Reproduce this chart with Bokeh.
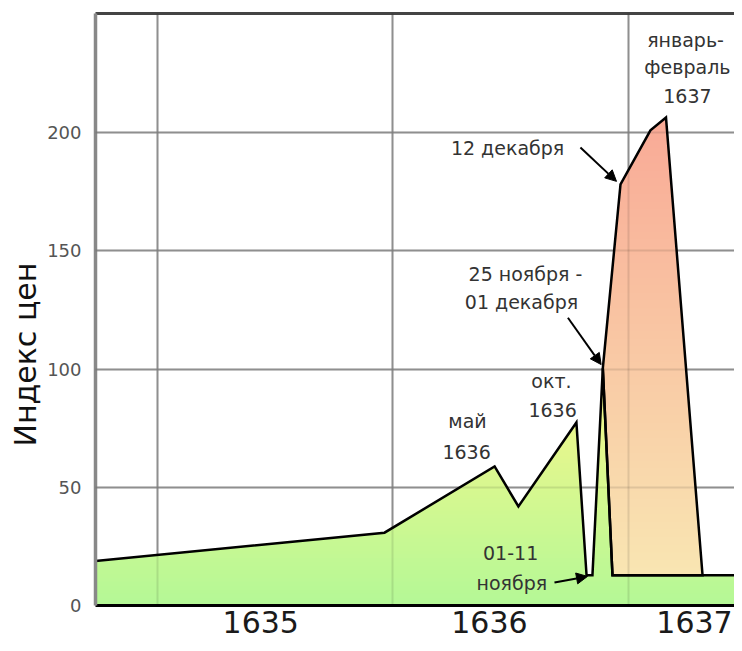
import numpy as np
from bokeh.plotting import figure
from bokeh.models import (Range1d, FixedTicker, LinearAxis, Grid, Arrow, NormalHead,
                          Title, ColumnDataSource)
from bokeh.core.properties import value
from bokeh.embed import file_html
from bokeh.resources import INLINE

# ---------------- data ----------------
dates = [1634.739, 1635.965, 1636.432, 1636.533, 1636.779, 1636.822, 1636.847,
         1636.891, 1636.932, 1636.966, 1637.093, 1637.159, 1637.314, 1637.480]
price_index = [18.8, 30.8, 58.8, 41.9, 77.4, 12.8, 12.8,
               100.3, 12.8, 178.1, 201.0, 206.4, 12.8, 12.8]
# points bounding each shaded phase (indices into the series)
green_phase = [0, 1, 2, 3, 4, 5, 6, 7, 8, 13]
orange_phase = [8, 7, 9, 10, 11, 12]

year_grid = [1635, 1636, 1637]
year_label_pos = [1635.44, 1636.41, 1637.28]
year_labels = ["1635", "1636", "1637"]
index_ticks = [0, 50, 100, 150, 200]

ann_text = ["январь-", "февраль", "1637", "12 декабря", "25 ноября -", "01 декабря",
            "окт.", "1636", "май", "1636", "01-11", "ноября"]
ann_x = [1637.242, 1637.250, 1637.250, 1636.487, 1636.563, 1636.546,
         1636.673, 1636.678, 1636.317, 1636.313, 1636.500, 1636.505]
ann_y = [239.4, 227.6, 215.3, 193.7, 140.4, 128.2,
         94.8, 82.5, 78.0, 65.1, 22.4, 9.7]

arrow_x0 = [1636.796, 1636.743, 1636.686]
arrow_y0 = [193.7, 121.7, 9.7]
arrow_x1 = [1636.949, 1636.884, 1636.826]
arrow_y1 = [179.4, 101.9, 12.3]

X0, X1 = 1634.739, 1637.4496
Y0, Y1 = 0, 250.4

# ---------------- helpers ----------------
def clip_above(poly, lo):
    out = []
    n = len(poly)
    for i in range(n):
        cur, prev = poly[i], poly[i - 1]
        cin, pin = cur[1] >= lo, prev[1] >= lo
        if cin != pin:
            t = (lo - prev[1]) / (cur[1] - prev[1])
            out.append((prev[0] + t * (cur[0] - prev[0]), lo))
        if cin:
            out.append(cur)
    return out

def mix(c0, c1, t):
    r, g, b = (int(round(a + (bb - a) * t)) for a, bb in zip(c0, c1))
    return "#%02x%02x%02x" % (r, g, b)

def gradient_bands(poly, c_low, c_high, n=60):
    ys = [pt[1] for pt in poly]
    lo, hi = min(ys), max(ys)
    xs_out, ys_out, cols = [], [], []
    for k in range(n):
        level = lo + (hi - lo) * k / n
        piece = clip_above(poly, level) if k > 0 else poly
        if len(piece) < 3:
            continue
        xs_out.append([pt[0] for pt in piece])
        ys_out.append([pt[1] for pt in piece])
        cols.append(mix(c_low, c_high, (k + 0.5) / n))
    return xs_out, ys_out, cols

# ---------------- figure ----------------
p = figure(width=734, height=643, x_range=Range1d(X0, X1), y_range=Range1d(Y0, Y1),
           output_backend="svg", toolbar_location=None,
           min_border_left=95, min_border_right=0, min_border_top=13, min_border_bottom=38)
p.outline_line_color = None

# grids (under the fill)
p.xgrid.ticker = FixedTicker(ticks=year_grid)
p.ygrid.ticker = FixedTicker(ticks=index_ticks)
for g in (p.xgrid, p.ygrid):
    g.grid_line_color = "#a0a0a0"
    g.grid_line_width = 2

# shaded phases
green_poly = [(dates[i], price_index[i]) for i in green_phase]
green_poly += [(dates[green_phase[-1]], Y0), (dates[green_phase[0]], Y0)]
orange_poly = [(dates[i], price_index[i]) for i in orange_phase]

gx, gy, gc = gradient_bands(green_poly, (180, 248, 150), (250, 247, 138))
p.patches(gx, gy, fill_color=gc, line_color=None)
ox, oy, oc = gradient_bands(orange_poly, (249, 229, 178), (249, 170, 150))
p.patches(ox, oy, fill_color=oc, line_color=None)

# grids shown faintly through the fill
for dim, tk in ((0, year_grid), (1, index_ticks)):
    p.add_layout(Grid(dimension=dim, ticker=FixedTicker(ticks=tk), grid_line_color="black",
                      grid_line_alpha=0.10, grid_line_width=2, level="overlay"))

# outlines
p.line([dates[i] for i in green_phase], [price_index[i] for i in green_phase],
       line_color="black", line_width=2.5, line_join="miter")
p.patch([dates[i] for i in orange_phase], [price_index[i] for i in orange_phase],
        fill_color=None, line_color="black", line_width=2.5, line_join="miter")

# annotation texts
src = ColumnDataSource(dict(x=ann_x, y=ann_y, t=ann_text))
p.text(x="x", y="y", text="t", source=src, text_font=value("DejaVu Sans"),
       text_font_size="19px", text_color="#333333", text_align="center",
       text_baseline="middle")

for xa, ya, xb, yb in zip(arrow_x0, arrow_y0, arrow_x1, arrow_y1):
    p.add_layout(Arrow(x_start=xa, y_start=ya, x_end=xb, y_end=yb, line_width=2,
                       line_color="black",
                       end=NormalHead(size=11, fill_color="black", line_color="black")))

# axes
p.xaxis.ticker = FixedTicker(ticks=year_label_pos)
p.xaxis.major_label_overrides = {pos: lab for pos, lab in zip(year_label_pos, year_labels)}
p.xaxis.axis_line_color = "black"
p.xaxis.axis_line_width = 3
p.xaxis.major_tick_line_color = None
p.xaxis.minor_tick_line_color = None
p.xaxis.major_tick_out = 0
p.xaxis.major_label_standoff = 5
p.xaxis.major_label_text_font = "DejaVu Sans"
p.xaxis.major_label_text_font_size = "30px"
p.xaxis.major_label_text_color = "#1a1a1a"

p.yaxis.ticker = FixedTicker(ticks=index_ticks)
p.yaxis.axis_line_color = "#888888"
p.yaxis.axis_line_width = 3.5
p.yaxis.major_tick_line_color = None
p.yaxis.minor_tick_line_color = None
p.yaxis.major_tick_out = 0
p.yaxis.major_label_standoff = 14
p.yaxis.major_label_text_font = "DejaVu Sans"
p.yaxis.major_label_text_font_size = "18px"
p.yaxis.major_label_text_color = "#555555"

top = LinearAxis(ticker=FixedTicker(ticks=[]), axis_line_color="#444444", axis_line_width=3,
                 major_tick_line_color=None, minor_tick_line_color=None,
                 major_tick_out=0, major_label_standoff=0,
                 major_label_text_font_size="0px")
p.add_layout(top, "above")

ylab = Title(text="Индекс цен", align="left", offset=159, standoff=4,
             text_font="DejaVu Sans", text_font_size="30px", text_font_style="normal",
             text_color="#111111")
p.add_layout(ylab, "left")

open("out.html", "w").write(file_html(p, INLINE))
